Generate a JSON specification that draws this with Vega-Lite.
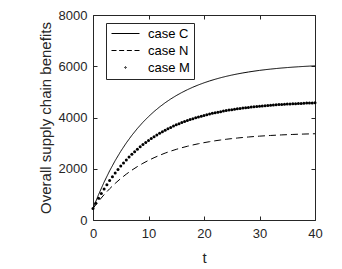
{
"$schema":"https://vega.github.io/schema/vega-lite/v6.json",
"width":222,"height":205,
"autosize":{"type":"none"},
"padding":{"left":93,"top":15,"right":27,"bottom":49},
"background":"white",
"config":{"view":{"stroke":null},"font":"Liberation Sans",
"axis":{"grid":false,"labelFlush":false,"domainColor":"#262626","tickColor":"#262626","labelColor":"#262626","titleColor":"#262626","labelFont":"Liberation Sans","titleFont":"Liberation Sans","labelFontSize":13,"titleFontSize":15,"titleFontWeight":"normal","tickSize":-4,"domainWidth":1,"tickWidth":1}},
"data":{"values":[
{"case":"case C","t":0,"v":450},{"case":"case C","t":1,"v":990},{"case":"case C","t":2,"v":1478},{"case":"case C","t":3,"v":1920},{"case":"case C","t":4,"v":2319},{"case":"case C","t":5,"v":2681},{"case":"case C","t":6,"v":3008},{"case":"case C","t":7,"v":3304},{"case":"case C","t":8,"v":3572},{"case":"case C","t":9,"v":3815},{"case":"case C","t":10,"v":4034},{"case":"case C","t":11,"v":4233},{"case":"case C","t":12,"v":4412},{"case":"case C","t":13,"v":4575},{"case":"case C","t":14,"v":4722},{"case":"case C","t":15,"v":4855},{"case":"case C","t":16,"v":4975},{"case":"case C","t":17,"v":5084},{"case":"case C","t":18,"v":5183},{"case":"case C","t":19,"v":5272},{"case":"case C","t":20,"v":5353},{"case":"case C","t":21,"v":5426},{"case":"case C","t":22,"v":5492},{"case":"case C","t":23,"v":5552},{"case":"case C","t":24,"v":5606},{"case":"case C","t":25,"v":5655},{"case":"case C","t":26,"v":5699},{"case":"case C","t":27,"v":5739},{"case":"case C","t":28,"v":5775},{"case":"case C","t":29,"v":5808},{"case":"case C","t":30,"v":5838},{"case":"case C","t":31,"v":5865},{"case":"case C","t":32,"v":5889},{"case":"case C","t":33,"v":5911},{"case":"case C","t":34,"v":5931},{"case":"case C","t":35,"v":5949},{"case":"case C","t":36,"v":5965},{"case":"case C","t":37,"v":5980},{"case":"case C","t":38,"v":5993},{"case":"case C","t":39,"v":6005},{"case":"case C","t":40,"v":6016},
{"case":"case N","t":0,"v":450},{"case":"case N","t":1,"v":733},{"case":"case N","t":2,"v":988},{"case":"case N","t":3,"v":1220},{"case":"case N","t":4,"v":1429},{"case":"case N","t":5,"v":1619},{"case":"case N","t":6,"v":1790},{"case":"case N","t":7,"v":1945},{"case":"case N","t":8,"v":2085},{"case":"case N","t":9,"v":2212},{"case":"case N","t":10,"v":2327},{"case":"case N","t":11,"v":2431},{"case":"case N","t":12,"v":2525},{"case":"case N","t":13,"v":2611},{"case":"case N","t":14,"v":2688},{"case":"case N","t":15,"v":2757},{"case":"case N","t":16,"v":2820},{"case":"case N","t":17,"v":2877},{"case":"case N","t":18,"v":2929},{"case":"case N","t":19,"v":2976},{"case":"case N","t":20,"v":3018},{"case":"case N","t":21,"v":3056},{"case":"case N","t":22,"v":3091},{"case":"case N","t":23,"v":3122},{"case":"case N","t":24,"v":3151},{"case":"case N","t":25,"v":3176},{"case":"case N","t":26,"v":3199},{"case":"case N","t":27,"v":3220},{"case":"case N","t":28,"v":3239},{"case":"case N","t":29,"v":3257},{"case":"case N","t":30,"v":3272},{"case":"case N","t":31,"v":3286},{"case":"case N","t":32,"v":3299},{"case":"case N","t":33,"v":3310},{"case":"case N","t":34,"v":3321},{"case":"case N","t":35,"v":3330},{"case":"case N","t":36,"v":3339},{"case":"case N","t":37,"v":3347},{"case":"case N","t":38,"v":3354},{"case":"case N","t":39,"v":3360},{"case":"case N","t":40,"v":3366},
{"case":"case M","t":0,"v":450},{"case":"case M","t":0.5,"v":655},{"case":"case M","t":1,"v":850},{"case":"case M","t":1.5,"v":1035},{"case":"case M","t":2,"v":1211},{"case":"case M","t":2.5,"v":1379},{"case":"case M","t":3,"v":1539},{"case":"case M","t":3.5,"v":1690},{"case":"case M","t":4,"v":1835},{"case":"case M","t":4.5,"v":1972},{"case":"case M","t":5,"v":2103},{"case":"case M","t":5.5,"v":2227},{"case":"case M","t":6,"v":2345},{"case":"case M","t":6.5,"v":2457},{"case":"case M","t":7,"v":2564},{"case":"case M","t":7.5,"v":2666},{"case":"case M","t":8,"v":2763},{"case":"case M","t":8.5,"v":2855},{"case":"case M","t":9,"v":2942},{"case":"case M","t":9.5,"v":3026},{"case":"case M","t":10,"v":3105},{"case":"case M","t":10.5,"v":3180},{"case":"case M","t":11,"v":3252},{"case":"case M","t":11.5,"v":3320},{"case":"case M","t":12,"v":3385},{"case":"case M","t":12.5,"v":3447},{"case":"case M","t":13,"v":3505},{"case":"case M","t":13.5,"v":3561},{"case":"case M","t":14,"v":3614},{"case":"case M","t":14.5,"v":3665},{"case":"case M","t":15,"v":3713},{"case":"case M","t":15.5,"v":3759},{"case":"case M","t":16,"v":3802},{"case":"case M","t":16.5,"v":3843},{"case":"case M","t":17,"v":3883},{"case":"case M","t":17.5,"v":3920},{"case":"case M","t":18,"v":3956},{"case":"case M","t":18.5,"v":3990},{"case":"case M","t":19,"v":4022},{"case":"case M","t":19.5,"v":4052},{"case":"case M","t":20,"v":4082},{"case":"case M","t":20.5,"v":4109},{"case":"case M","t":21,"v":4136},{"case":"case M","t":21.5,"v":4161},{"case":"case M","t":22,"v":4185},{"case":"case M","t":22.5,"v":4207},{"case":"case M","t":23,"v":4229},{"case":"case M","t":23.5,"v":4249},{"case":"case M","t":24,"v":4269},{"case":"case M","t":24.5,"v":4288},{"case":"case M","t":25,"v":4305},{"case":"case M","t":25.5,"v":4322},{"case":"case M","t":26,"v":4338},{"case":"case M","t":26.5,"v":4353},{"case":"case M","t":27,"v":4368},{"case":"case M","t":27.5,"v":4382},{"case":"case M","t":28,"v":4395},{"case":"case M","t":28.5,"v":4407},{"case":"case M","t":29,"v":4419},{"case":"case M","t":29.5,"v":4430},{"case":"case M","t":30,"v":4441},{"case":"case M","t":30.5,"v":4451},{"case":"case M","t":31,"v":4461},{"case":"case M","t":31.5,"v":4470},{"case":"case M","t":32,"v":4479},{"case":"case M","t":32.5,"v":4487},{"case":"case M","t":33,"v":4495},{"case":"case M","t":33.5,"v":4503},{"case":"case M","t":34,"v":4510},{"case":"case M","t":34.5,"v":4517},{"case":"case M","t":35,"v":4523},{"case":"case M","t":35.5,"v":4529},{"case":"case M","t":36,"v":4535},{"case":"case M","t":36.5,"v":4541},{"case":"case M","t":37,"v":4546},{"case":"case M","t":37.5,"v":4551},{"case":"case M","t":38,"v":4556},{"case":"case M","t":38.5,"v":4561},{"case":"case M","t":39,"v":4565},{"case":"case M","t":39.5,"v":4569},{"case":"case M","t":40,"v":4573}
]},
"layer":[
{"transform":[{"filter":"datum.case !== 'case M'"}],
 "mark":{"type":"line","strokeWidth":1,"color":"black"},
 "encoding":{
  "x":{"field":"t","type":"quantitative","scale":{"domain":[0,40],"nice":false},"axis":{"orient":"bottom","values":[0,10,20,30,40],"labelPadding":11,"title":"t","titleY":42,"titleBaseline":"alphabetic"}},
  "y":{"field":"v","type":"quantitative","scale":{"domain":[0,8000],"nice":false},"axis":{"orient":"left","values":[0,2000,4000,6000,8000],"format":"d","labelPadding":10,"title":"Overall supply chain benefits","titleX":-43,"titleBaseline":"alphabetic"}},
  "strokeDash":{"field":"case","type":"nominal","scale":{"domain":["case C","case N"],"range":[[1,0],[7,4]]},"legend":null}
 }},
{"transform":[{"filter":"datum.case === 'case M'"}],
 "mark":{"type":"point","filled":true,"shape":"circle","size":9,"color":"black","opacity":1},
 "encoding":{
  "x":{"field":"t","type":"quantitative","axis":{"orient":"top","values":[0,10,20,30,40],"labels":false,"title":null}},
  "y":{"field":"v","type":"quantitative","axis":{"orient":"right","values":[0,2000,4000,6000,8000],"labels":false,"title":null}}
 }},
{"transform":[{"filter":"datum.case === 'case M' && datum.t === 0"}],
 "mark":{"type":"point","filled":false,"opacity":0,"color":"black","strokeWidth":1},
 "encoding":{
  "x":{"field":"t","type":"quantitative","axis":null},
  "y":{"field":"v","type":"quantitative","axis":null},
  "shape":{"field":"case","type":"nominal","scale":{"domain":["case C","case N","case M"],"range":["M-1,0H4.6","M-1,0H0M0.53,0H1.53M2.07,0H3.07M3.6,0H4.6","M1.65,0A0.15,0.15 0 1,0 1.95,0A0.15,0.15 0 1,0 1.65,0Z"]},
   "legend":{"title":null,"orient":"none","legendX":13,"legendY":8,"symbolSize":100,"symbolOpacity":1,"symbolFillColor":"black","symbolStrokeColor":"black","symbolStrokeWidth":1,"labelFont":"Liberation Sans","labelFontSize":13,"labelColor":"black","labelOffset":25,"padding":4,"strokeColor":"#262626","fillColor":"white","rowPadding":3}}
 }}
],
"resolve":{"axis":{"x":"independent","y":"independent"}}
}
